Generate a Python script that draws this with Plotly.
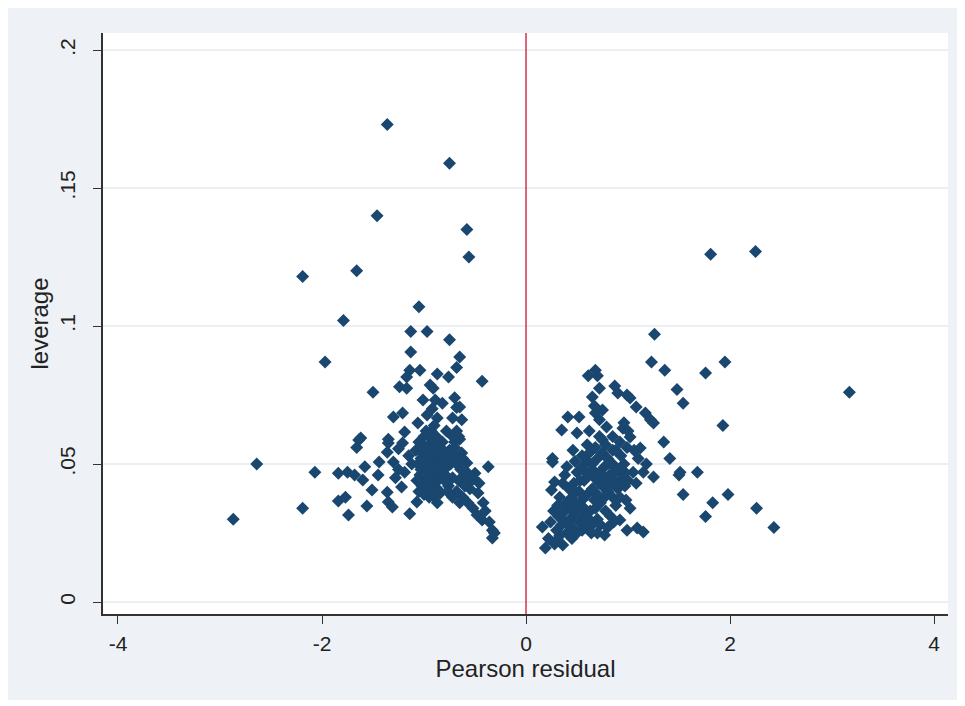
import plotly.graph_objects as go

# Pearson residual (x) and leverage (y)
left_x = [-1.36, -0.75, -1.46, -0.58, -0.56, -1.66, -2.19, -1.79, -1.05, -1.13, -0.97, -0.75, -1.97, -0.43, -1.50,
          -1.13, -0.65, -0.68, -1.04, -1.14, -1.17, -0.87, -0.76, -1.24, -1.17, -0.94, -0.91, -1.01, -0.89, -0.82,
          -0.70, -0.65, -1.30, -1.21, -0.97, -0.87, -1.06, -0.72, -0.63, -1.19, -1.62, -1.35,
          -0.93, -0.95, -0.90, -0.68, -0.66, -0.70, -0.92, -0.68,
          -1.64, -1.66, -1.35, -1.21, -1.44, -1.58, -1.84, -1.75, -1.68, -1.60, -1.45, -1.51, -1.36, -1.35, -1.31,
          -1.84, -1.77, -1.74, -1.56, -1.14, -1.07, -1.22, -1.19, -1.30, -1.36, -1.25, -1.15, -1.12, -1.25, -1.28,
          -1.05, -1.00, -0.95, -0.90, -0.86, -1.08, -1.02, -0.97, -0.92, -0.87, -0.84, -1.06, -1.01, -0.96, -0.91,
          -0.86, -1.04, -0.99, -0.94, -0.89, -1.02, -0.97, -0.92, -0.87, -0.84, -0.87, -0.95, -1.00, -0.90, -0.93,
          -0.98, -1.03, -0.88, -0.94, -0.99,
          -0.72, -0.65, -0.58, -0.50, -0.37, -0.68, -0.62, -0.57, -0.52, -0.47, -0.48, -0.43, -0.33, -0.33, -0.31,
          -0.46, -0.56, -0.75, -0.78, -0.80, -0.74, -0.70, -0.64, -0.60, -0.66, -0.72, -0.76, -0.80, -0.70, -0.63,
          -0.82, -0.78, -0.55, -0.42, -0.40, -0.36, -0.52,
          -1.07, -1.03, -0.93, -0.89, -0.95, -1.00, -0.91, -0.96, -0.85, -1.05, -0.98, -0.88, -0.81, -0.83, -0.79,
          -0.77, -0.72, -0.65, -0.60, -0.68, -0.62, -0.58,
          -2.64, -2.07, -2.87, -2.19]
left_y = [0.173, 0.159, 0.140, 0.135, 0.125, 0.120, 0.118, 0.102, 0.107, 0.098, 0.098, 0.095, 0.087, 0.080, 0.076,
          0.0906, 0.0888, 0.085, 0.084, 0.084, 0.0815, 0.0826, 0.0815, 0.078, 0.0775, 0.0786, 0.0775, 0.0732, 0.0732, 0.072,
          0.074, 0.0707, 0.067, 0.0685, 0.0678, 0.0667, 0.0649, 0.0667, 0.066, 0.0616, 0.0594, 0.059,
          0.062, 0.060, 0.064, 0.062, 0.060, 0.058, 0.070, 0.0705,
          0.0587, 0.056, 0.0576, 0.0576, 0.0507, 0.049, 0.0467, 0.047, 0.046, 0.0442, 0.046, 0.0406, 0.0398, 0.0362, 0.0344,
          0.0366, 0.038, 0.0315, 0.0348, 0.032, 0.0362, 0.0417, 0.047, 0.0507, 0.0543, 0.0555, 0.053, 0.050, 0.048, 0.045,
          0.058, 0.060, 0.057, 0.058, 0.056, 0.055, 0.054, 0.053, 0.052, 0.051, 0.053, 0.050, 0.049, 0.048, 0.047,
          0.046, 0.046, 0.045, 0.044, 0.043, 0.042, 0.041, 0.040, 0.041, 0.0395, 0.036, 0.038, 0.039, 0.038, 0.048,
          0.051, 0.052, 0.049, 0.055, 0.056,
          0.060, 0.059, 0.0504, 0.0467, 0.049, 0.040, 0.038, 0.036, 0.034, 0.0395, 0.0315, 0.0297, 0.026, 0.0232, 0.025,
          0.043, 0.043, 0.055, 0.052, 0.048, 0.050, 0.053, 0.048, 0.046, 0.044, 0.045, 0.042, 0.044, 0.056, 0.054,
          0.058, 0.062, 0.041, 0.036, 0.033, 0.029, 0.045,
          0.044, 0.048, 0.045, 0.053, 0.050, 0.047, 0.042, 0.043, 0.048, 0.040, 0.062, 0.060, 0.055, 0.050, 0.046,
          0.040, 0.038, 0.036, 0.042, 0.050, 0.052, 0.047,
          0.050, 0.047, 0.030, 0.034]

right_x = [1.81, 2.25, 1.26, 3.17, 1.95, 1.76, 1.23, 1.36, 1.48, 1.54, 1.93, 1.35, 1.41, 1.50, 1.51, 1.68, 1.54, 1.83,
           1.76, 1.98, 2.26, 2.43,
           0.68, 0.61, 0.70, 0.72, 0.65, 0.87, 0.90, 0.99, 1.02, 1.08, 1.17, 1.22, 1.25, 0.41, 0.52, 0.35, 0.50, 0.68,
           0.75, 0.79, 0.75, 0.46, 0.60, 0.95, 1.02, 1.12, 0.26, 0.85, 0.99,
           0.67, 0.72, 0.62, 0.85, 0.92, 1.06, 1.10, 1.18, 1.15, 1.00, 0.96,
           0.26, 1.25, 0.28, 0.36, 0.25, 0.16, 0.19, 0.30, 0.36, 0.99, 1.09, 1.15, 0.77, 1.02, 0.98, 0.92,
           0.30, 0.35, 0.40, 0.45, 0.32, 0.38, 0.43, 0.48, 0.52, 0.55, 0.60, 0.65, 0.70, 0.58, 0.63, 0.68, 0.73, 0.78,
           0.83, 0.40, 0.45, 0.50, 0.55, 0.60, 0.65, 0.70, 0.75, 0.80, 0.85, 0.88, 0.42, 0.47, 0.52, 0.57, 0.62, 0.67,
           0.72, 0.77, 0.82, 0.87, 0.90, 0.50, 0.55, 0.60, 0.65, 0.70, 0.75, 0.80, 0.85, 0.90, 0.95, 0.93, 0.88, 0.62,
           0.68, 0.55, 0.38, 0.33, 0.27, 0.24, 0.22, 0.28, 0.45, 0.50, 0.33, 0.43, 0.53, 0.73, 0.80, 0.86, 1.00, 1.05,
           0.97, 0.96, 1.08, 0.92, 0.78, 0.48, 0.40,
           0.35, 0.42, 0.47, 0.57, 0.62, 0.67, 0.72, 0.77, 0.82, 0.87, 0.92, 0.97, 0.75, 0.65, 0.58, 0.53, 0.48, 0.38,
           0.31, 0.70, 0.64, 0.57, 0.82, 0.78, 0.72]
right_y = [0.126, 0.127, 0.097, 0.076, 0.087, 0.083, 0.087, 0.084, 0.077, 0.072, 0.064, 0.058, 0.052, 0.046, 0.047, 0.047,
           0.039, 0.036, 0.031, 0.039, 0.034, 0.027,
           0.084, 0.082, 0.082, 0.0775, 0.0743, 0.0783, 0.0757, 0.075, 0.0739, 0.0707, 0.0685, 0.066, 0.0649, 0.067, 0.067,
           0.0623, 0.0612, 0.0685, 0.0696, 0.0634, 0.0587, 0.055, 0.057, 0.063, 0.0598, 0.0558, 0.052, 0.055, 0.056,
           0.071, 0.066, 0.062, 0.060, 0.058, 0.055, 0.052, 0.050, 0.047, 0.062, 0.065,
           0.0507, 0.0453, 0.0435, 0.043, 0.0406, 0.0272, 0.0196, 0.0225, 0.0207, 0.026, 0.0268, 0.0254, 0.0243, 0.034,
           0.037, 0.0297,
           0.026, 0.028, 0.025, 0.027, 0.031, 0.033, 0.030, 0.032, 0.029, 0.026, 0.027, 0.028, 0.030, 0.031, 0.033, 0.034,
           0.036, 0.033, 0.031, 0.036, 0.038, 0.035, 0.037, 0.039, 0.041, 0.039, 0.042, 0.040, 0.038, 0.035, 0.041, 0.043,
           0.040, 0.044, 0.046, 0.045, 0.047, 0.049, 0.046, 0.044, 0.041, 0.047, 0.049, 0.051, 0.050, 0.052, 0.054, 0.052,
           0.050, 0.048, 0.046, 0.053, 0.055, 0.054, 0.056, 0.053, 0.046, 0.038, 0.033, 0.029, 0.023, 0.021, 0.023, 0.025,
           0.024, 0.034, 0.033, 0.028, 0.027, 0.029, 0.044, 0.047, 0.042, 0.050, 0.043, 0.038, 0.044, 0.051, 0.049,
           0.032, 0.028, 0.036, 0.034, 0.030, 0.037, 0.043, 0.038, 0.042, 0.047, 0.044, 0.047, 0.046, 0.048, 0.047, 0.044,
           0.040, 0.029, 0.035, 0.025, 0.025, 0.029, 0.050, 0.057, 0.060]

x_vals = left_x + right_x
y_vals = left_y + right_y

x_ticks = [-4, -2, 0, 2, 4]
x_tick_text = ["-4", "-2", "0", "2", "4"]
y_ticks = [0, 0.05, 0.1, 0.15, 0.2]
y_tick_text = ["0", ".05", ".1", ".15", ".2"]

FONT = "Liberation Sans, Arial, sans-serif"
NAVY = "#1a476f"
BG = "#eef2f6"

fig = go.Figure()
fig.add_trace(go.Scatter(
    x=x_vals, y=y_vals, mode="markers",
    marker=dict(symbol="diamond", size=10, color=NAVY, line=dict(width=0)),
    showlegend=False, hoverinfo="skip",
))

fig.add_shape(type="line", xref="x", yref="paper", x0=0, x1=0, y0=0, y1=1,
              line=dict(color="#c8001e", width=1.2), layer="above")

fig.update_layout(
    width=953, height=692,
    margin=dict(l=95, r=13, t=25, b=86),
    paper_bgcolor=BG, plot_bgcolor="white",
    font=dict(family=FONT, size=17, color="#222222"),
    xaxis=dict(range=[-4.147, 4.137], tickmode="array", tickvals=x_ticks, ticktext=x_tick_text,
               ticks="outside", ticklen=8, tickwidth=1.2, tickcolor="#333333", automargin=False,
               showline=True, linecolor="#333333", linewidth=1.5, showgrid=False, zeroline=False,
               tickfont=dict(size=21), ticklabelstandoff=2,
               title=dict(text="Pearson residual", font=dict(size=24), standoff=0)),
    yaxis=dict(range=[-0.00435, 0.2062], tickmode="array", tickvals=y_ticks, ticktext=y_tick_text,
               ticks="outside", ticklen=8, tickwidth=1.2, tickcolor="#333333", tickangle=-90, automargin=False,
               showline=True, linecolor="#333333", linewidth=1.5,
               showgrid=True, gridcolor="#eaf0f4", gridwidth=1.5, zeroline=False,
               tickfont=dict(size=21), ticklabelstandoff=10,
               title=dict(text="leverage", font=dict(size=24), standoff=0)),
)

fig.write_html("out.html")
